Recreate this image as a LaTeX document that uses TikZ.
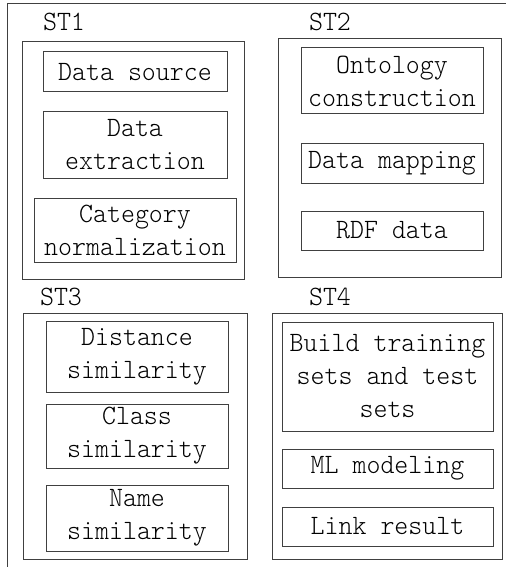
\documentclass[tikz,border=0pt]{standalone}
\usepackage{fontspec}
\newfontfamily\boxmono{lmmonolt10-regular}[Extension=.otf, FakeStretch=0.95]
\begin{document}
\begin{tikzpicture}[x=1pt,y=-1pt,
  frameline/.style={draw=black!75, line width=1pt},
  group/.style={frameline, inner sep=0pt, fill=none},
  item/.style={frameline, inner sep=0pt, align=center, text=black,
    font=\boxmono\fontsize{28}{33}\selectfont},
  steplabel/.style={inner sep=0pt, text=black, font=\boxmono\fontsize{28}{33}\selectfont}]
\useasboundingbox (0,0) rectangle (506,567);
% outer frame
\coordinate (fbl) at (7.5,567);
\coordinate (ftl) at (7.5,4);
\coordinate (ftr) at (506,4);
\draw[frameline] (fbl) -- (ftl) -- (ftr);
% ST1
\node[steplabel] (l1) at (64,22) {ST1};
\node[group, minimum width=222pt, minimum height=237pt] (g1) at (133,160.5) {};
\node[item, minimum width=184pt, minimum height=40pt] (a1) at (135,72) {Data source};
\node[item, minimum width=184pt, minimum height=66pt] (a2) at (135,145) {Data\\extraction};
\node[item, minimum width=202pt, minimum height=64pt] (a3) at (135,230) {Category\\normalization};
% ST2
\node[steplabel] (l2) at (330,22) {ST2};
\node[group, minimum width=223pt, minimum height=238pt] (g2) at (389.5,158) {};
\node[item, minimum width=182pt, minimum height=66pt] (b1) at (392,81) {Ontology\\construction};
\node[item, minimum width=182pt, minimum height=40pt] (b2) at (392,163) {Data mapping};
\node[item, minimum width=182pt, minimum height=39pt] (b3) at (392,230.5) {RDF data};
% ST3
\node[steplabel] (l3) at (61,297) {ST3};
\node[group, minimum width=224pt, minimum height=246pt] (g3) at (135,436) {};
\node[item, minimum width=182pt, minimum height=71pt] (c1) at (137,356.5) {Distance\\similarity};
\node[item, minimum width=182pt, minimum height=64pt] (c2) at (137,436) {Class\\similarity};
\node[item, minimum width=182pt, minimum height=66pt] (c3) at (137,518) {Name\\similarity};
% ST4
\node[steplabel] (l4) at (330,297) {ST4};
\node[group, minimum width=230pt, minimum height=246pt] (g4) at (387,436) {};
\node[item, minimum width=211pt, minimum height=109pt] (d1) at (387.5,376.5) {Build training\\sets and test\\sets};
\node[item, minimum width=211pt, minimum height=39pt] (d2) at (387.5,468.5) {ML modeling};
\node[item, minimum width=211pt, minimum height=39pt] (d3) at (387.5,526.5) {Link result};
\end{tikzpicture}
\end{document}
